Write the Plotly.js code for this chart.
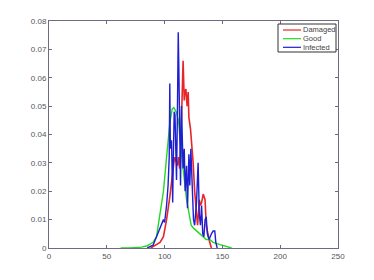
<!DOCTYPE html>
<html><head><meta charset="utf-8">
<script src="https://cdn.plot.ly/plotly-3.0.1.min.js"></script>
<style>html,body{margin:0;padding:0;background:#fff}#c{width:374px;height:280px}</style>
</head><body><div id="c"></div>
<script>
const seriesNames = ['Damaged', 'Good', 'Infected'];

const goodX = [62,70,80,85,88,90,93,96,99,101.7,103,104.5,106.6,108,110,112,113,114.6,116,119,122,123,125,127.6,130,133,136,139,142,148,153.5,158];
const goodY = [0,0,0.0003,0.0008,0.0015,0.002,0.004,0.012,0.02,0.032,0.038,0.044,0.049,0.0495,0.048,0.045,0.040,0.033,0.028,0.017,0.010,0.008,0.007,0.006,0.005,0.004,0.003,0.003,0.002,0.0012,0.0006,0];

const damX = [88,92,96,99,101.7,104.5,106,107.4,108.3,109,110,111,112,113,114,114.6,115.5,116,117,117.5,118.4,119.5,120.4,121,122.4,123.6,124.7,126,127.6,128.5,129.3,130,131,132,133.4,134.2,135,136,137.7,139,140.5];
const damY = [0,0.001,0.002,0.004,0.010,0.018,0.024,0.028,0.031,0.032,0.030,0.029,0.032,0.028,0.036,0.045,0.058,0.066,0.052,0.055,0.056,0.050,0.055,0.046,0.042,0.036,0.030,0.020,0.010,0.008,0.012,0.017,0.015,0.016,0.019,0.018,0.017,0.008,0.004,0.002,0];

const infX = [85,88,90,93,96,99,100,101.7,103,104,104.5,105,106,107,107.4,108.3,109,109.7,110.3,111,111.8,112.3,113.2,113.8,114.6,115.5,116,117,117.8,119,119.8,121,121.8,122.7,124,125,126,127.6,129,130,131,132,133,134,135,136,137,138.5,140.5,142,143.4,144.3,145.5];
const infY = [0,0.0005,0.001,0.004,0.007,0.010,0.009,0.015,0.022,0.032,0.058,0.035,0.038,0.016,0.028,0.048,0.047,0.035,0.024,0.045,0.076,0.064,0.030,0.022,0.050,0.040,0.028,0.035,0.020,0.029,0.014,0.033,0.022,0.035,0.018,0.010,0.008,0.016,0.030,0.012,0.008,0.015,0.005,0.004,0.010,0.011,0.005,0.003,0.005,0.006,0.006,0.002,0];

const xTicks = [0,50,100,150,200,250];
const yTicks = [0,0.01,0.02,0.03,0.04,0.05,0.06,0.07,0.08];

const colors = ['#e8262a', '#22d822', '#1e1ed2'];
const widths = [1.6, 1.4, 1.4];
const xs = [damX, goodX, infX];
const ys = [damY, goodY, infY];

const traces = seriesNames.map((n, i) => ({
  x: xs[i], y: ys[i], name: n, mode: 'lines', line: {color: colors[i], width: widths[i]}
}));

const fontFam = 'Liberation Sans, Arial, sans-serif';
const axisCommon = {
  showgrid: false, zeroline: false, showline: true, mirror: 'ticks',
  linecolor: '#6e6a80', linewidth: 1, ticks: 'inside', ticklen: 3, tickcolor: '#6e6a80',
  tickfont: {family: fontFam, size: 8, color: '#555'}
};

// custom compact legend (paper coordinates of plot area)
const W = 289, H = 227; // plot area px
const px = v => (v - 49) / W;
const py = v => (248 - v) / H;
const legShapes = [{type: 'rect', xref: 'paper', yref: 'paper', x0: px(278), x1: px(336), y0: py(52), y1: py(24),
  line: {color: '#333', width: 1}, fillcolor: '#fff', layer: 'above'}];
const legAnn = [];
const rowY = [30, 38.7, 47.3];
seriesNames.forEach((n, i) => {
  legShapes.push({type: 'line', xref: 'paper', yref: 'paper', x0: px(283), x1: px(301), y0: py(rowY[i]), y1: py(rowY[i]),
    line: {color: colors[i], width: 1.2}, layer: 'above'});
  legAnn.push({xref: 'paper', yref: 'paper', x: px(302), y: py(rowY[i]), xanchor: 'left', yanchor: 'middle',
    text: n, showarrow: false, borderpad: 0, font: {family: fontFam, size: 7.5, color: '#444'}});
});

const layout = {
  width: 374, height: 280,
  margin: {l: 49, r: 36, t: 21, b: 32},
  paper_bgcolor: '#fff', plot_bgcolor: '#fff',
  xaxis: Object.assign({}, axisCommon, {range: [0, 250], tickvals: xTicks, ticktext: xTicks.map(String)}),
  yaxis: Object.assign({}, axisCommon, {range: [0, 0.08], tickvals: yTicks, ticktext: yTicks.map(v => v === 0 ? '0' : v.toFixed(2))}),
  showlegend: false,
  shapes: legShapes,
  annotations: legAnn
};

Plotly.newPlot('c', traces, layout, {displayModeBar: false, staticPlot: true});
</script>
</body></html>
